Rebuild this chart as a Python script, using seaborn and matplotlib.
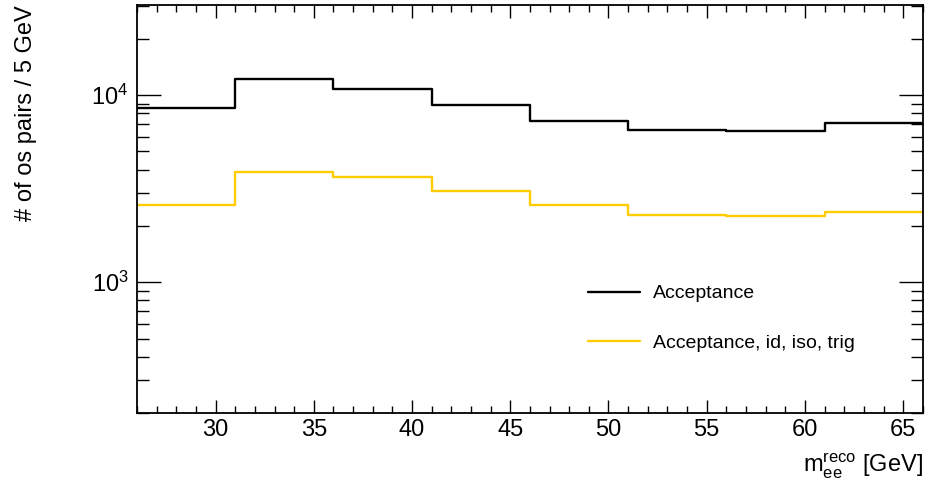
import numpy as np
import matplotlib
matplotlib.use('Agg')
import matplotlib.pyplot as plt
import matplotlib.ticker as mticker
import seaborn as sns

# ==================== data ====================
bin_edges = [26, 31, 36, 41, 46, 51, 56, 61, 66]
acc_counts = [8520, 12220, 10770, 8870, 7250, 6480, 6430, 7130]
acc_sel_counts = [2590, 3900, 3640, 3070, 2600, 2300, 2270, 2370]
series_labels = ['Acceptance', 'Acceptance, id, iso, trig']
series_colors = ['black', '#FFCC00']

# ==================== style ====================
sns.set_style('ticks')
plt.rcParams['font.family'] = ['Liberation Sans', 'DejaVu Sans']
plt.rcParams['mathtext.fontset'] = 'custom'
plt.rcParams['mathtext.rm'] = 'Liberation Sans'
for k in ['text.color', 'axes.labelcolor', 'xtick.color', 'ytick.color', 'axes.edgecolor']:
    plt.rcParams[k] = 'black'

fig = plt.figure(figsize=(9.3, 4.87), dpi=100)
ax = fig.add_axes([0.1473, 0.152, 0.845, 0.838])

centers = [(a + b) / 2 for a, b in zip(bin_edges[:-1], bin_edges[1:])]
for vals, lab, col in zip([acc_counts, acc_sel_counts], series_labels, series_colors):
    sns.histplot(x=centers, weights=vals, bins=bin_edges, element='step',
                 fill=False, color=col, linewidth=1.7, label=lab, ax=ax)

ax.set_yscale('log')
ax.set_xlim(26, 66)
ax.set_ylim(200, 30400)

ax.xaxis.set_major_locator(mticker.MultipleLocator(5))
ax.xaxis.set_minor_locator(mticker.MultipleLocator(1))
ax.yaxis.set_major_locator(mticker.LogLocator(base=10))
ax.yaxis.set_minor_locator(mticker.LogLocator(base=10, subs=np.arange(2, 10)))
ax.yaxis.set_minor_formatter(mticker.NullFormatter())

ax.tick_params(which='both', direction='in', top=True, right=True, labelsize=17, width=1)
ax.tick_params(axis='x', which='major', length=9.5, pad=4)
ax.tick_params(axis='x', which='minor', length=5)
ax.tick_params(axis='y', which='major', length=17, pad=6)
ax.tick_params(axis='y', which='minor', length=8.5)
for s in ax.spines.values():
    s.set_linewidth(1.3)

ax.set_xlabel(r'$\mathregular{m_{ee}^{reco}}$ [GeV]', loc='right', fontsize=17, labelpad=8)
ax.set_ylabel('# of os pairs / 5 GeV', loc='top', fontsize=17, labelpad=39)

ax.legend(frameon=False, loc='upper left', bbox_to_anchor=(0.561, 0.338),
          borderpad=0, handlelength=2.7, labelspacing=1.65, fontsize=14, handletextpad=0.67)

fig.savefig('out.png', dpi=100)
